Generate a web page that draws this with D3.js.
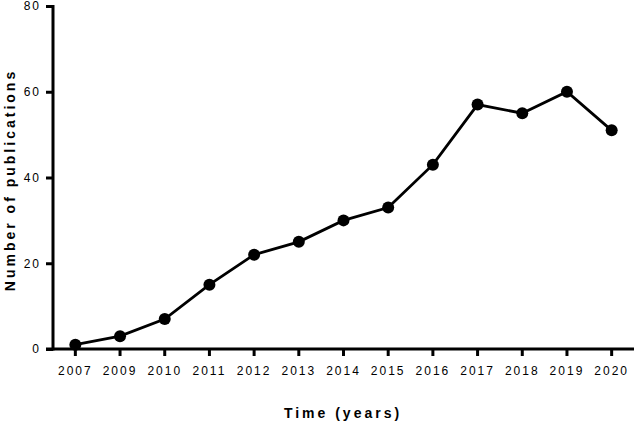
<!DOCTYPE html>
<html>
<head>
<meta charset="UTF-8">
<script src="https://d3js.org/d3.v7.min.js"></script>
<style>
  body { margin: 0; background: #fff; }
  text { font-family: "Liberation Sans", Arial, sans-serif; fill: #000; }
</style>
</head>
<body>
<svg id="chart" width="636" height="427"></svg>
<script>
var years = ["2007", "2009", "2010", "2011", "2012", "2013", "2014", "2015", "2016", "2017", "2018", "2019", "2020"];
var counts = [1, 3, 7, 15, 22, 25, 30, 33, 43, 57, 55, 60, 51];
var yTicks = [0, 20, 40, 60, 80];

var svg = d3.select("#chart");
var mLeft = 53, mRight = 634, mTop = 6, mBottom = 349;

var x = d3.scaleBand().domain(years).range([mLeft, mRight]);
var y = d3.scaleLinear().domain([0, 80]).range([mBottom, mTop]);

var data = years.map(function (d, i) { return {year: d, n: counts[i]}; });

// y axis
var yAxis = svg.append("g")
    .attr("transform", "translate(" + mLeft + ",0)")
    .call(d3.axisLeft(y).tickValues(yTicks).tickSize(7).tickPadding(5).tickSizeOuter(0));
yAxis.select(".domain").attr("stroke-width", 3).attr("d", "M0," + (mBottom + 1.5) + "V" + (mTop - 1));
yAxis.selectAll(".tick line").attr("stroke-width", 3);
yAxis.selectAll(".tick text").style("font-size", "12px").style("letter-spacing", "2px");

// x axis
var xAxis = svg.append("g")
    .attr("transform", "translate(0," + mBottom + ")")
    .call(d3.axisBottom(x).tickSize(7).tickPadding(10).tickSizeOuter(0));
xAxis.select(".domain").attr("stroke-width", 3).attr("d", "M" + (mLeft - 7) + ",0H" + mRight);
xAxis.selectAll(".tick line").attr("stroke-width", 3);
xAxis.selectAll(".tick text").style("font-size", "12px").style("letter-spacing", "2px");

var cx = function (d) { return x(d.year) + x.bandwidth() / 2; };

svg.append("path")
    .datum(data)
    .attr("fill", "none")
    .attr("stroke", "#000")
    .attr("stroke-width", 2.8)
    .attr("d", d3.line().x(cx).y(function (d) { return y(d.n); }));

svg.selectAll("circle").data(data).enter().append("circle")
    .attr("cx", cx)
    .attr("cy", function (d) { return y(d.n); })
    .attr("r", 6)
    .attr("fill", "#000");

svg.append("text")
    .attr("x", 343).attr("y", 418)
    .attr("text-anchor", "middle")
    .style("font-size", "14px").style("font-weight", "bold").style("letter-spacing", "3px")
    .text("Time (years)");

svg.append("text")
    .attr("transform", "translate(15,180) rotate(-90)")
    .attr("text-anchor", "middle")
    .style("font-size", "14px").style("font-weight", "bold").style("letter-spacing", "3px")
    .text("Number of publications");
</script>
</body>
</html>
